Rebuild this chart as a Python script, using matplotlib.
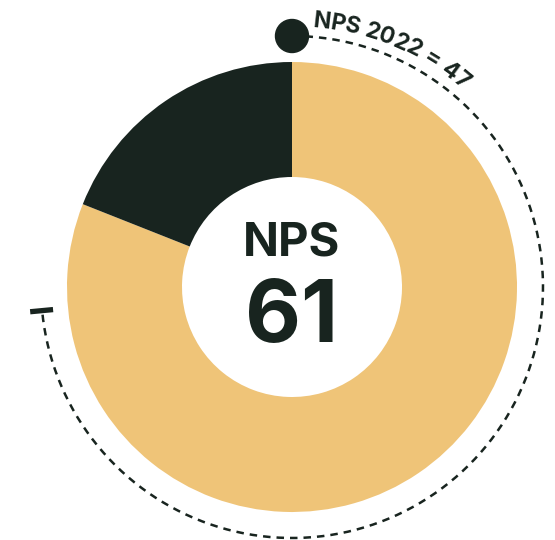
import matplotlib
matplotlib.use("Agg")
import matplotlib.pyplot as plt
from matplotlib.patches import Circle
import numpy as np

# data
shares = [81, 19]          # gold (promoter side) / dark, percent of ring
prev_share = 73.5          # last year's score, percent of circle (NPS 47 on -100..100)
labels = ["NPS", "61"]
prev_label = "NPS 2022 = 47"
seg_colors = ["#EFC478", "#18241F"]
dark = "#18241F"

W, H = 555, 540
fig = plt.figure(figsize=(W / 100, H / 100), dpi=100)
ax = fig.add_axes([0, 0, 1, 1])

cx, cy = 292, H - 287
R = 225
r_in = 110

ax.pie(shares, colors=seg_colors, startangle=90, counterclock=False,
       radius=R, center=(cx, cy),
       wedgeprops=dict(width=R - r_in, linewidth=0))

# dashed arc for last year's score
r_arc = 251
t_end = 90 - 3.6 * prev_share
t = np.radians(np.linspace(90, t_end, 400))
ax.plot(cx + r_arc * np.cos(t), cy + r_arc * np.sin(t), color=dark, lw=1.8,
        dashes=(3.0, 2.4), solid_capstyle="butt")
ax.add_patch(Circle((cx, cy + r_arc), 16.5, color=dark, zorder=5))
te = np.radians(t_end)
ax.plot([cx + 240 * np.cos(te), cx + 263 * np.cos(te)],
        [cy + 240 * np.sin(te), cy + 263 * np.sin(te)],
        color=dark, lw=3.8, solid_capstyle="butt")

# curved label
r_txt = 261
fs = 16.5
renderer = fig.canvas.get_renderer()
widths = []
for ch in prev_label:
    tt = ax.text(0, 0, ch if ch != " " else "n", fontsize=fs, fontweight="bold",
                 family="Inter")
    w = tt.get_window_extent(renderer).width
    if ch == " ":
        w *= 0.45
    widths.append(w - 0.3)
    tt.remove()
ang = np.radians(85.5)
for ch, w in zip(prev_label, widths):
    a_mid = ang - (w / 2) / r_txt
    if ch != " ":
        ax.text(cx + r_txt * np.cos(a_mid), cy + r_txt * np.sin(a_mid), ch,
                fontsize=fs, fontweight="bold", family="Inter", color=dark,
                ha="center", va="baseline", rotation=np.degrees(a_mid) - 90,
                rotation_mode="anchor")
    ang -= w / r_txt

# centre text
ax.text(cx, H - 255, labels[0], fontsize=34, fontweight="bold", family="Inter",
        color=dark, ha="center", va="baseline")
ax.text(cx, H - 342, labels[1], fontsize=62, fontweight="bold", family="Inter",
        color=dark, ha="center", va="baseline")

ax.set_xlim(0, W)
ax.set_ylim(0, H)
ax.set_aspect("equal")
ax.axis("off")
fig.savefig("out.png", dpi=100)
